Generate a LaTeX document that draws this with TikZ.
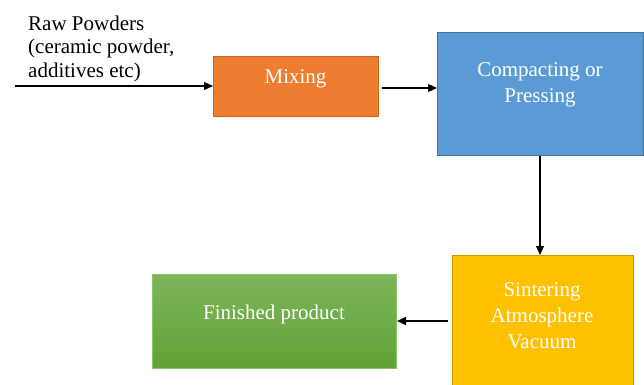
\documentclass[tikz,border=0pt]{standalone}
\usepackage{fontspec}
\setmainfont{Liberation Serif}
\usetikzlibrary{arrows.meta}
\definecolor{orgfill}{HTML}{ED7D31}
\definecolor{orgline}{HTML}{C9651E}
\definecolor{bluefill}{HTML}{5B9BD5}
\definecolor{blueline}{HTML}{41719C}
\definecolor{goldfill}{HTML}{FFC000}
\definecolor{goldline}{HTML}{C99A00}
\definecolor{greentop}{HTML}{7DB65A}
\definecolor{greenbot}{HTML}{62A136}
\definecolor{greenline}{HTML}{8CC46B}
\tikzset{
  boxbase/.style={draw, line width=0.7pt, inner sep=0pt, anchor=north west},
  lbl/.style={text=white, font=\fontsize{21}{26}\selectfont, align=center, inner sep=0pt},
  flow/.style={line width=1.2pt, -{Triangle[length=9pt,width=8pt]}}
}
\begin{document}
\begin{tikzpicture}[x=1pt,y=-1pt]
\useasboundingbox (0,0) rectangle (644,384);
% boxes
\node[boxbase, fill=orgfill, draw=orgline, minimum width=165pt, minimum height=60pt] (mix) at (213,56) {};
\node[boxbase, fill=bluefill, draw=blueline, minimum width=206pt, minimum height=123pt] (comp) at (437,32) {};
\node[boxbase, fill=goldfill, draw=goldline, minimum width=181pt, minimum height=135pt] (sint) at (452,255) {};
\node[boxbase, top color=greentop, bottom color=greenbot, draw=greenline, minimum width=244pt, minimum height=94pt] (fin) at (152,274) {};
% labels
\node[lbl] (mixt) at (295.5,79) {Mixing};
\node[lbl] (compt) at (540,85) {Compacting or\\Pressing};
\node[lbl] (sintt) at (542,316) {Sintering\\Atmosphere\\Vacuum};
\node[lbl] (fint) at (274,314) {Finished product};
\node[anchor=base west, inner sep=0pt, align=left, font=\fontsize{21}{23.5}\selectfont] (raw) at (28,77) {Raw Powders\\(ceramic powder,\\additives etc)};
% connectors
\coordinate (in) at (15,86);
\coordinate (mixout) at (382,88);
\coordinate (compin) at (437,88);
\coordinate (sintout) at (448,321);
\coordinate (finin) at (397,321);
\draw[flow] (in) -- (mix.west |- in);
\draw[flow] (mixout) -- (compin);
\draw[flow] (comp.south -| 540,0) -- (sint.north -| 540,0);
\draw[flow] (sintout) -- (finin);
\end{tikzpicture}
\end{document}
